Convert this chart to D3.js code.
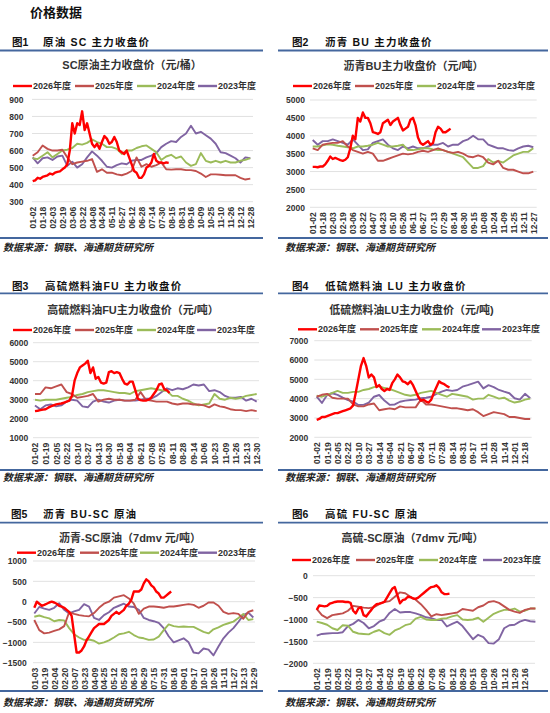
<!DOCTYPE html>
<html>
<head>
<meta charset="utf-8">
<script src="https://cdn.jsdelivr.net/npm/d3@7"></script>
<style>
body { margin: 0; background: #fff; }
text { font-family: "Liberation Sans", Arial, "Noto Sans CJK SC", sans-serif; }
</style>
</head>
<body>
<script>
// ---- data ----
var years = ["2026年度", "2025年度", "2024年度", "2023年度"];

// 图1 SC
var scLabels = ["01-02","01-18","02-03","02-19","03-06","03-22","04-08","04-24","05-11","05-27","06-12","06-28","07-14","07-30","08-15","08-31","09-16","10-09","10-25","11-10","11-26","12-12","12-28"];
var scTicks = [300, 400, 500, 600, 700, 800, 900];
var sc2026 = [420,425,440,435,445,450,455,465,460,470,475,478,490,500,520,600,760,700,760,750,830,720,760,700,640,620,640,610,650,685,670,640,650,680,650,600,590,580,600,560,520,480,470,440,440,460,500,510,530,580,540,530,530,525,530,528];
var sc2025 = [570,590,630,610,600,600,605,560,520,530,535,540,550,475,490,470,470,460,455,465,480,560,505,520,505,515,530,490,488,490,490,485,485,480,465,445,460,460,458,455,455,455,440,430,435];
var sc2024 = [555,550,570,590,560,580,600,605,615,640,635,645,665,650,640,620,620,610,580,600,600,615,625,630,610,590,545,565,575,555,565,530,510,520,585,540,530,540,530,540,530,530,540,545,555];
var sc2023 = [560,525,555,560,545,565,570,510,535,500,520,560,595,570,540,505,500,515,525,520,540,545,545,560,570,585,620,640,655,650,680,700,745,700,710,690,670,640,590,585,570,555,530,560,555];

// 图2 BU
var buLabels = ["01-02","01-18","02-03","02-19","03-06","03-22","04-07","04-23","05-10","05-26","06-11","06-27","07-13","07-29","08-14","08-30","09-15","10-08","10-24","11-09","11-25","12-11","12-27"];
var buTicks = [2000, 2500, 3000, 3500, 4000, 4500, 5000];
var bu2026 = [3130,3130,3120,3140,3140,3200,3300,3420,3350,3380,3350,3320,3300,3330,3400,3650,4000,3900,4500,4400,4650,4500,4500,4350,4100,4080,4050,4100,4350,4400,4450,4300,4400,4450,4500,4300,4150,4200,4250,4450,4500,4300,3950,3800,3750,3800,3850,3750,3800,4100,4250,4200,4100,4100,4150,4200];
var bu2025 = [3650,3600,3750,3780,3800,3800,3850,3700,3600,3550,3500,3550,3500,3300,3300,3350,3400,3450,3500,3480,3500,3550,3580,3550,3600,3650,3600,3550,3520,3550,3500,3420,3400,3450,3400,3250,3200,3300,3100,3050,3050,3000,2950,2950,3000];
var bu2024 = [3700,3700,3730,3760,3750,3720,3700,3680,3650,3700,3700,3720,3750,3800,3750,3700,3700,3720,3750,3600,3600,3620,3650,3650,3620,3600,3600,3550,3500,3450,3400,3250,3100,3100,3150,3350,3250,3300,3250,3350,3450,3500,3550,3550,3650];
var bu2023 = [3880,3750,3850,3850,3900,3850,3800,3750,3900,3750,3600,3620,3800,3850,3900,3750,3650,3600,3700,3650,3700,3650,3650,3700,3750,3750,3800,3700,3750,3750,3850,3900,4000,3900,3900,3750,3700,3650,3650,3600,3580,3650,3700,3720,3680];

// 图3 FU
var fuLabels = ["01-02","01-19","02-05","02-22","03-10","03-27","04-13","04-30","05-18","06-04","06-21","07-08","07-25","08-11","08-28","09-14","10-06","10-23","11-09","11-26","12-13","12-30"];
var fuTicks = [1000, 2000, 3000, 4000, 5000, 6000];
var fu2026 = [2400,2420,2450,2480,2500,2580,2650,2700,2750,2780,2800,2850,2900,2950,3200,4000,4400,4700,4800,4900,5050,4400,4700,4100,4200,3900,3850,3900,4450,4500,4400,4450,4400,4100,3850,3800,3950,3950,3500,3050,2980,2950,2950,3000,3100,3300,3500,3800,3850,3550,3500,3350];
var fu2025 = [3300,3300,3650,3600,3700,3800,3400,3300,3100,3150,3200,3300,2900,3000,3050,3000,3000,2950,2950,3000,3400,3000,2950,2900,2900,2900,2800,2750,2800,2800,2750,2750,2700,2600,2750,2650,2600,2500,2450,2450,2400,2450,2400];
var fu2024 = [3000,2950,3000,3000,3000,3050,3100,3150,3250,3300,3400,3450,3500,3500,3450,3400,3350,3350,3300,3450,3500,3550,3600,3550,3500,3450,3200,3200,3050,2950,2800,2700,2750,2800,3300,3050,3000,3100,3050,3100,3200,3250,3300];
var fu2023 = [2700,2500,2700,2750,2650,2700,2900,3000,2950,2650,2600,2900,3000,2900,2850,2950,3000,2950,2950,2950,3000,3050,3050,3200,3400,3600,3500,3600,3550,3650,3800,3750,3800,3450,3500,3400,3200,3100,3100,3150,2950,3050,2900];

// 图4 LU
var luLabels = ["01-02","01-19","02-05","02-22","03-10","03-27","04-14","05-04","05-21","06-07","06-24","07-11","07-28","08-14","08-31","09-17","10-11","10-28","11-14","12-01","12-18"];
var luTicks = [2000, 3000, 4000, 5000, 6000, 7000];
var lu2026 = [2900,2950,3050,3050,3100,3150,3200,3250,3250,3300,3350,3400,3450,3500,3650,4300,5000,5700,6100,5700,5100,5250,5100,4600,4700,4500,4400,4500,4450,4800,5000,5250,5100,4900,4850,4750,4900,4700,4400,4100,3900,3950,3850,3800,3950,4300,4600,4900,4800,4750,4650,4580];
var lu2025 = [4100,4200,4250,4050,4000,4000,4000,3700,3600,3600,3700,3750,3400,3450,3500,3450,3600,3550,3550,3550,3950,3700,3700,3650,3600,3550,3500,3500,3450,3400,3450,3300,3100,3200,3300,3250,3200,3050,3050,3000,2950,2950];
var lu2024 = [4150,4100,4200,4300,4400,4300,4300,4350,4350,4450,4500,4600,4650,4550,4500,4400,4300,4200,4150,4200,4300,4350,4400,4300,4200,4100,4250,4200,4150,4100,3950,4000,4000,4200,4100,4000,4050,3900,3800,3850,3950,4000];
var lu2023 = [4100,3780,4190,4280,4200,4050,3930,3850,3670,3680,3800,4100,4190,3900,3680,3700,3840,3900,3930,3950,4020,4050,4100,4250,4360,4450,4400,4450,4620,4700,4790,4880,4530,4700,4600,4450,4360,4280,4020,3950,4250,4020];

// 图5 BU-SC
var bsLabels = ["01-03","01-19","02-04","02-20","03-07","03-23","04-09","04-25","05-12","05-28","06-13","06-29","07-15","07-31","08-16","09-01","09-17","10-10","10-26","11-11","11-27","12-13","12-29"];
var bsTicks = [-1500, -1000, -500, 0, 500, 1000];
var bs2026 = [-150,0,-50,-100,-80,-50,-20,0,-20,-50,-100,-120,-150,-200,-250,-350,-800,-1250,-1250,-1200,-1100,-950,-850,-750,-650,-600,-550,-550,-550,-500,-450,-350,-300,-250,-300,-250,-200,-100,-50,50,250,250,250,300,450,550,500,400,350,250,200,100,100,150,200,250];
var bs2025 = [-450,-700,-780,-760,-720,-680,-600,-260,-300,-330,-350,-360,-280,-150,-50,0,100,130,160,80,-50,-300,-170,-120,-120,-130,-150,-120,-120,-100,-80,-60,-80,-150,-100,-20,-20,-100,-250,-300,-280,-300,-420,-250,-210];
var bs2024 = [-370,-340,-380,-410,-480,-450,-460,-650,-800,-880,-940,-930,-960,-1030,-1000,-950,-880,-800,-780,-740,-820,-880,-900,-940,-930,-860,-700,-560,-600,-620,-610,-620,-620,-680,-740,-780,-680,-630,-570,-530,-490,-400,-300,-450,-430];
var bs2023 = [-290,-130,-170,-200,-150,-40,-200,-290,-240,-200,-60,-120,-400,-450,-330,-260,-150,-100,-50,-120,-130,-200,-400,-450,-480,-520,-650,-850,-1000,-950,-900,-1000,-1250,-1270,-1150,-1180,-1320,-1100,-900,-760,-650,-500,-330,-270,-390];

// 图6 FU-SC
var fsLabels = ["01-02","01-19","02-05","02-22","03-10","03-27","04-14","05-02","05-19","06-05","06-22","07-09","07-26","08-12","08-29","09-15","10-09","10-26","11-12","11-29","12-16"];
var fsTicks = [-2000, -1500, -1000, -500, 0];
var fs2026 = [-780,-680,-690,-700,-690,-640,-620,-600,-590,-590,-590,-600,-600,-620,-800,-860,-750,-720,-900,-930,-850,-780,-700,-650,-640,-620,-600,-500,-400,-300,-260,-450,-630,-560,-540,-480,-490,-520,-530,-500,-450,-400,-350,-300,-260,-250,-220,-280,-380,-420,-420,-410];
var fs2025 = [-760,-900,-970,-900,-880,-860,-800,-690,-710,-730,-740,-720,-650,-600,-580,-480,-380,-400,-480,-550,-650,-780,-930,-880,-900,-880,-860,-840,-760,-780,-800,-720,-680,-600,-580,-620,-700,-780,-820,-850,-780,-750,-750];
var fs2024 = [-1050,-1080,-1120,-1200,-1240,-1130,-1140,-1280,-1320,-1330,-1340,-1280,-1240,-1310,-1350,-1250,-1200,-1130,-1100,-980,-940,-1000,-1010,-1010,-980,-970,-930,-900,-1000,-1010,-1000,-960,-1050,-960,-870,-820,-780,-780,-750,-820,-800,-750,-750];
var fs2023 = [-1370,-1330,-1320,-1310,-1310,-1290,-1150,-1100,-1010,-1080,-1200,-1150,-1050,-1000,-850,-760,-840,-830,-830,-860,-900,-950,-970,-1010,-1010,-1160,-1100,-1050,-1150,-1300,-1450,-1350,-1400,-1540,-1550,-1450,-1200,-1130,-1120,-1050,-1010,-1040,-1050];

// ---- styles ----
var colors = ["#FF0000", "#C0504D", "#9BBB59", "#8064A2"];
var widths = [2.4, 1.9, 1.9, 1.9];
var steps = [0.25, 0.5, 0.5, 0.5];   // label intervals between samples
var blue = "#44679e";

var charts = [
  { fig: "图1", head: "原油 SC 主力收盘价", title: "SC原油主力收盘价（元/桶）",
    labels: scLabels, ticks: scTicks, series: [sc2026, sc2025, sc2024, sc2023],
    col: 0, figX: 12, headX: 43, headY: 42, lineY: 50.5, titleX: 132, titleY: 65,
    legY: 86, legX: [13, 75, 137, 198],
    x0: 32.7, x1: 250.3, gridL: 32, gridR: 253, yTop: 99.4, yBot: 201.7, labR: 23.5,
    endY: 238, srcY: 247 },
  { fig: "图2", head: "沥青 BU 主力收盘价", title: "沥青BU主力收盘价（元/吨）",
    labels: buLabels, ticks: buTicks, series: [bu2026, bu2025, bu2024, bu2023],
    col: 1, figX: 292, headX: 325, headY: 42, lineY: 50.5, titleX: 413.5, titleY: 66,
    legY: 86, legX: [293, 355, 417, 477],
    x0: 312.7, x1: 533.3, gridL: 310, gridR: 536.7, yTop: 100, yBot: 207.3, labR: 305,
    endY: 238, srcY: 247 },
  { fig: "图3", head: "高硫燃料油FU 主力收盘价", title: "高硫燃料油FU主力收盘价（元/吨）",
    labels: fuLabels, ticks: fuTicks, series: [fu2026, fu2025, fu2024, fu2023],
    col: 0, figX: 12, headX: 45, headY: 286.7, lineY: 293.3, titleX: 133, titleY: 310,
    legY: 330, legX: [13, 75, 137, 197],
    x0: 35, x1: 256.7, gridL: 33, gridR: 259, yTop: 342.7, yBot: 437.7, labR: 28.3,
    endY: 470, srcY: 477.5 },
  { fig: "图4", head: "低硫燃料油 LU 主力收盘价", title: "低硫燃料油LU主力收盘价（元/吨)",
    labels: luLabels, ticks: luTicks, series: [lu2026, lu2025, lu2024, lu2023],
    col: 1, figX: 292, headX: 325, headY: 286.7, lineY: 293.3, titleX: 411.5, titleY: 310,
    legY: 329.3, legX: [298, 360, 422, 482],
    x0: 316.7, x1: 525, gridL: 314.3, gridR: 531.7, yTop: 340.7, yBot: 437.3, labR: 308.3,
    endY: 470, srcY: 477.5 },
  { fig: "图5", head: "沥青 BU-SC 原油", title: "沥青-SC原油（7dmv 元/吨）",
    labels: bsLabels, ticks: bsTicks, series: [bs2026, bs2025, bs2024, bs2023],
    col: 0, figX: 11, headX: 43, headY: 514.3, lineY: 522.7, titleX: 130, titleY: 538.3,
    legY: 552.7, legX: [17, 80, 140, 198],
    x0: 34.3, x1: 253.3, gridL: 33, gridR: 255, yTop: 561, yBot: 662.7, labR: 26.7,
    endY: 691, srcY: 702 },
  { fig: "图6", head: "高硫 FU-SC 原油", title: "高硫-SC原油（7dmv 元/吨）",
    labels: fsLabels, ticks: fsTicks, series: [fs2026, fs2025, fs2024, fs2023],
    col: 1, figX: 292, headX: 325, headY: 514.3, lineY: 522.7, titleX: 412.5, titleY: 538.3,
    legY: 560, legX: [292, 356, 419, 483],
    x0: 316.7, x1: 525, gridL: 313, gridR: 535, yTop: 575.7, yBot: 663.3, labR: 307.7,
    endY: 691, srcY: 702 }
];

var svg = d3.select('body').append('svg')
  .attr('width', 550)
  .attr('height', 713);

svg.append('text')
  .attr('x', 30).attr('y', 12).attr('dy', '0.35em')
  .attr('font-size', '13px').attr('font-weight', 'bold')
  .attr('fill', '#111')
  .text('价格数据');

charts.forEach(function(c){
  var g = svg.append('g');
  var lineL = c.col === 0 ? 0 : 278;
  var lineR = c.col === 0 ? 263 : 548;

  // section header + rules
  g.append('text')
    .attr('x', c.figX).attr('y', c.headY).attr('dy', '0.35em')
    .attr('font-size', '10.5px').attr('font-weight', 'bold').attr('fill', '#111')
    .text(c.fig);
  g.append('text')
    .attr('x', c.headX).attr('y', c.headY).attr('dy', '0.35em')
    .attr('font-size', '10.5px').attr('font-weight', 'bold').attr('fill', '#111')
    .attr('letter-spacing', '1.2px')
    .text(c.head);
  g.selectAll('.rule')
    .data([c.lineY, c.endY]).enter().append('line')
    .attr('class', 'rule')
    .attr('x1', lineL).attr('x2', lineR)
    .attr('y1', function(d){ return d }).attr('y2', function(d){ return d })
    .attr('stroke', blue).attr('stroke-width', 1.8);
  g.append('text')
    .attr('x', c.col === 0 ? 3 : 285).attr('y', c.srcY).attr('dy', '0.35em')
    .attr('font-size', '10px').attr('font-style', 'italic').attr('font-weight', 'bold')
    .attr('fill', '#222')
    .text('数据来源：钢联、海通期货研究所');

  // chart title
  g.append('text')
    .attr('x', c.titleX).attr('y', c.titleY).attr('dy', '0.35em')
    .attr('text-anchor', 'middle')
    .attr('font-size', '11px').attr('font-weight', 'bold').attr('fill', '#333')
    .text(c.title);

  // legend
  var leg = g.selectAll('.leg')
    .data(years).enter().append('g')
    .attr('class', 'leg')
    .attr('transform', function(d, i){ return 'translate(' + c.legX[i] + ',' + c.legY + ')' });
  leg.append('line')
    .attr('x1', 0).attr('x2', 19).attr('y1', 0).attr('y2', 0)
    .attr('stroke', function(d, i){ return colors[i] })
    .attr('stroke-width', 2.4);
  leg.append('text')
    .attr('x', 20).attr('dy', '0.35em')
    .attr('font-size', '9px').attr('font-weight', 'bold').attr('fill', '#333')
    .text(function(d){ return d });

  // scales
  var x = d3.scaleLinear().domain([0, c.labels.length - 1]).range([c.x0, c.x1]);
  var y = d3.scaleLinear().domain(d3.extent(c.ticks)).range([c.yBot, c.yTop]);

  // gridlines
  g.selectAll('.grid')
    .data(c.ticks).enter().append('line')
    .attr('class', 'grid')
    .attr('x1', c.gridL).attr('x2', c.gridR)
    .attr('y1', function(d){ return y(d) }).attr('y2', function(d){ return y(d) })
    .attr('stroke', '#d9d9d9').attr('stroke-width', 0.8);

  // y axis labels
  var yAxis = g.append('g')
    .attr('transform', 'translate(' + c.labR + ',0)')
    .call(d3.axisLeft(y).tickValues(c.ticks).tickSize(0).tickPadding(0).tickFormat(d3.format('d')));
  yAxis.select('.domain').remove();
  yAxis.selectAll('text')
    .attr('font-size', '8.5px').attr('font-weight', 'bold').attr('fill', '#333')
    .attr('font-family', '"Liberation Sans", Arial, sans-serif');

  // x axis labels (vertical)
  var xAxis = g.append('g')
    .attr('transform', 'translate(0,' + c.yBot + ')')
    .call(d3.axisBottom(x).tickValues(d3.range(c.labels.length)).tickSize(0)
      .tickFormat(function(i){ return c.labels[i] }));
  xAxis.select('.domain').remove();
  xAxis.selectAll('text')
    .attr('transform', 'rotate(-90)')
    .attr('text-anchor', 'end')
    .attr('x', -5).attr('y', 0).attr('dy', '0.35em')
    .attr('font-size', '8.5px').attr('font-weight', 'bold').attr('fill', '#333')
    .attr('font-family', '"Liberation Sans", Arial, sans-serif');

  // series, 2023 first so 2026 sits on top
  [3, 2, 1, 0].forEach(function(s){
    var line = d3.line()
      .x(function(d, i){ return x(i * steps[s]) })
      .y(function(d){ return y(d) });
    g.append('path')
      .datum(c.series[s])
      .attr('d', line)
      .attr('fill', 'none')
      .attr('stroke', colors[s])
      .attr('stroke-width', widths[s])
      .attr('stroke-linejoin', 'round');
  });
});
</script>
</body>
</html>
